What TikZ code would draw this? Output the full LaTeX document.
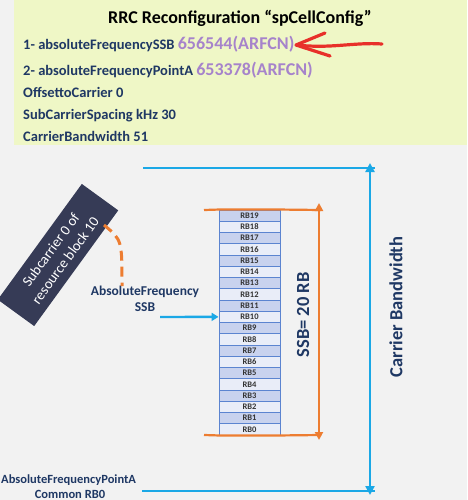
\documentclass[tikz,border=0pt]{standalone}
\usepackage{fontspec}
\setmainfont{Carlito}
\usetikzlibrary{arrows.meta,positioning}
\definecolor{bggray}{HTML}{F2F2F2}
\definecolor{note}{HTML}{EFF7C6}
\definecolor{navy}{HTML}{1F3864}
\definecolor{lav}{HTML}{A683CB}
\definecolor{rbdark}{HTML}{C8D2EE}
\definecolor{rblight}{HTML}{E9EDF8}
\definecolor{rbline}{HTML}{5B84D0}
\definecolor{orng}{HTML}{ED7D31}
\definecolor{sky}{HTML}{1BA8E6}
\definecolor{boxnavy}{HTML}{363B56}
\definecolor{redmark}{HTML}{E8302A}
\tikzset{param/.style = {anchor=base west, inner sep=0pt, text=navy, font=\bfseries\fontsize{14.5}{17}\selectfont}}
\tikzset{rb/.style = {draw=rbline, line width=0.9pt, minimum width=61pt, minimum height=11.25pt, inner sep=0pt, font=\bfseries\fontsize{8.5}{9}\selectfont, text=black!80}}
\tikzset{orline/.style = {draw=orng, line width=2.2pt}}
\tikzset{skyline/.style = {draw=sky, line width=2.4pt}}
\tikzset{bigtag/.style = {text=navy, font=\bfseries\fontsize{18.5}{20}\selectfont, rotate=90}}
\tikzset{pointtag/.style = {inner sep=0pt, text=navy, font=\bfseries\fontsize{12.5}{15}\selectfont}}

\begin{document}
\begin{tikzpicture}[x=1pt, y=-1pt]
      \useasboundingbox[fill=bggray] (0,0) rectangle (467,500);
      \fill[note] (14,0) rectangle (467,145);
      % parameters
      \node[anchor=base, inner sep=0pt, font=\bfseries\fontsize{18}{20}\selectfont] (title) at (240,24) {RRC Reconfiguration “spCellConfig”};
      \node[param] (ssbpar) at (23,50) {1- absoluteFrequencySSB \textcolor{lav}{\fontsize{18}{20}\selectfont 656544(ARFCN)}};
      \node[param] (pointapar) at (23,76) {2- absoluteFrequencyPointA \textcolor{lav}{\fontsize{18}{20}\selectfont 653378(ARFCN)}};
      \node[param] (offpar) at (23,98) {OffsettoCarrier 0};
      \node[param] (scspar) at (23,120) {SubCarrierSpacing kHz 30};
      \node[param] (bwpar) at (23,141) {CarrierBandwidth 51};
      % hand drawn red arrow
      \draw[redmark, line width=3.2pt, line cap=round, line join=round] (382,44) .. controls (355,42) and (330,49) .. (297,45);
      \draw[redmark, line width=3.2pt, line cap=round, line join=round] (325,33) -- (296,45) -- (330,56);
      % resource blocks
      \foreach \i in {0,...,19} {
        \ifodd\i \def\rbfill{rbdark}\else \def\rbfill{rblight}\fi
        \node[rb, fill=\rbfill] (rb\i) at (249.5,{435-(\i+0.5)*11.25}) {RB\i};
      }
      % SSB span
      \draw[orline] (204,210) -- (rb19.north west) -- (rb19.north east) -- (321,210);
      \draw[orline] (204,435) -- (rb0.south west) -- (rb0.south east) -- (321,435);
      \draw[orline, {Triangle[length=8pt, width=8pt]}-{Triangle[length=8pt, width=8pt]}] (319,203) -- (319,440);
      \node[bigtag] (ssbtag) at (303,315) {SSB= 20 RB};
      % carrier bandwidth
      \draw[skyline] (143,168) -- (375,168);
      \draw[skyline] (142,491) -- (375,491);
      \draw[skyline, {Triangle[length=9pt, width=9pt]}-{Triangle[length=9pt, width=9pt]}] (370,163) -- (370,495);
      \node[bigtag] (cbtag) at (396,307) {Carrier Bandwidth};
      % absolute frequency SSB
      \node[pointtag, align=center, font=\bfseries\fontsize{13.5}{16.5}\selectfont] (afssb) at (145,299) {AbsoluteFrequency\\SSB};
      \coordinate (ssbstart) at (160,317);
      \draw[skyline, -{Triangle[length=7pt, width=8pt]}] (ssbstart) -- (rb10.west);
      % subcarrier 0
      \node[fill=boxnavy, text=white, rotate=54, minimum width=143pt, minimum height=45pt, inner sep=0pt, align=center, font=\fontsize{14.5}{18}\selectfont] (sc0) at (58,255) {Subcarrier 0 of\\resource block 10};
      \coordinate (arcstart) at (104,225);
      \coordinate (arcend) at (122,286);
      \draw[orng, line width=3pt, dash pattern=on 10pt off 6pt] (arcstart) .. controls (122,240) .. (arcend);
      % point A
      \node[pointtag, anchor=base west] (pointa) at (1,483) {AbsoluteFrequencyPointA};
      \node[pointtag, anchor=base] (crb0) at (70,498) {Common RB0};
\end{tikzpicture}
\end{document}
